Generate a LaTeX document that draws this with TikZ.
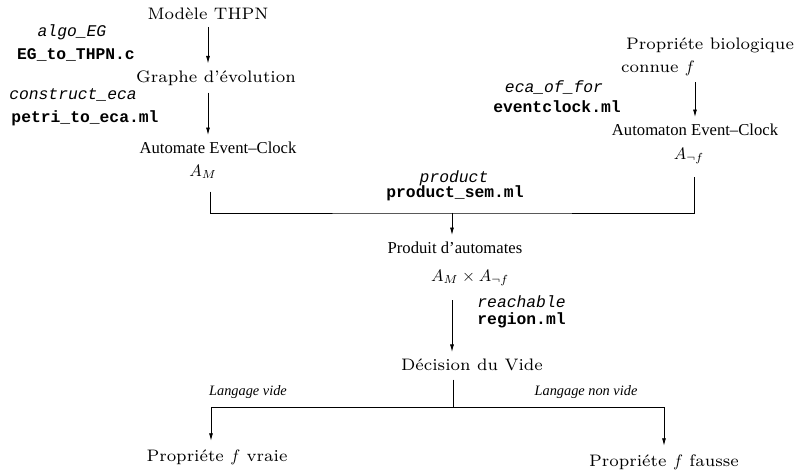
\documentclass[tikz,border=0pt]{standalone}
\usepackage{fontspec}
\newfontfamily\timesfont[Ligatures=TeX]{Liberation Serif}
\newfontfamily\courfont{Liberation Mono}
\newfontfamily\cmsept[Extension=.otf]{lmroman7-regular}
\usetikzlibrary{arrows.meta}

\tikzset{
  etape/.style={inner sep=0pt,font=\cmsept\fontsize{10}{12}\selectfont},
  autom/.style={inner sep=0pt,font=\timesfont\fontsize{10}{12}\selectfont},
  algo/.style={inner sep=0pt,font=\courfont\itshape\fontsize{9.8}{12}\selectfont},
  prog/.style={inner sep=0pt,font=\courfont\bfseries\fontsize{9.8}{12}\selectfont},
  branche/.style={inner sep=0pt,font=\timesfont\itshape\fontsize{8.6}{10}\selectfont},
  fleche/.style={-{Latex[length=4.5pt,width=2.4pt]}},
}

\begin{document}
\begin{tikzpicture}[x=0.6pt,y=-0.6pt,line width=0.5pt]
\useasboundingbox (0,0) rectangle (800,472);

% chaine du modele
\node[etape] (thpn) at (208,14) {Modèle THPN};
\node[algo] (algoEG) at (72,32) {algo\_EG};
\node[prog] (egthpn) at (76,55) {EG\_to\_THPN.c};
\node[etape] (graphe) at (216,78) {Graphe d’évolution};
\node[algo] (construct) at (73,95) {construct\_eca};
\node[prog] (petri) at (85,118) {petri\_to\_eca.ml};
\node[autom] (autoM) at (218,148) {Automate Event–Clock};
\node (AM) at (203,172) {$A_M$};

% chaine de la propriete
\node[etape] (propbio) at (710,45) {Propriéte biologique};
\node[etape] (connue) at (658,68) {connue $f$};
\node[algo] (ecaof) at (554,87) {eca\_of\_for};
\node[prog] (eventclock) at (557,107) {eventclock.ml};
\node[autom] (autoNf) at (695,130) {Automaton Event–Clock};
\node (Anf) at (689,156) {$A_{\neg f}$};

% produit
\node[algo] (product) at (454,178) {product};
\node[prog] (productsem) at (455,193) {product\_sem.ml};
\node[autom] (produit) at (455,248) {Produit d’automates};
\node (prodAM) at (470,278) {$A_M \times A_{\neg f}$};
\node[algo,anchor=west] (reachable) at (477,302) {reachable};
\node[prog,anchor=west] (region) at (477,320) {region.ml};
\node[etape] (decision) at (472,365) {Décision du Vide};

% verdicts
\node[branche] (langvide) at (248,392) {Langage vide};
\node[branche] (langnonvide) at (586,392) {Langage non vide};
\node[etape] (vraie) at (217,457) {Propriéte $f$ vraie};
\node[etape] (fausse) at (664,462) {Propriéte $f$ fausse};

\coordinate (jonction) at (452,213);
\coordinate (fourche) at (453,407);
\coordinate (gauche) at (211,407);
\coordinate (droite) at (664,407);

\draw[fleche] ([yshift=-4pt]thpn.south) -- ([yshift=4pt]thpn.south |- graphe.north);
\draw[fleche] ([yshift=-4pt]thpn.south |- graphe.south) -- ([yshift=4pt]thpn.south |- autoM.north);
\draw[fleche] ([yshift=-4pt]autoNf.north |- connue.south) -- ([yshift=4pt]autoNf.north);
\draw ([xshift=4.2pt,yshift=-4pt]AM.south) |- (jonction) -| ([xshift=3pt,yshift=-4pt]Anf.south);
\draw[fleche] (jonction) -- ([yshift=4pt]jonction |- produit.north);
\draw[fleche] ([yshift=-5pt]jonction |- prodAM.south) -- ([yshift=4pt]jonction |- decision.north);
\draw ([yshift=-5pt]fourche |- decision.south) -- (fourche);
\draw[fleche] (fourche) -- (gauche) -- ([yshift=5pt]gauche |- vraie.north);
\draw[fleche] (fourche) -- (droite) -- ([yshift=5pt]fausse.north);
\end{tikzpicture}
\end{document}
